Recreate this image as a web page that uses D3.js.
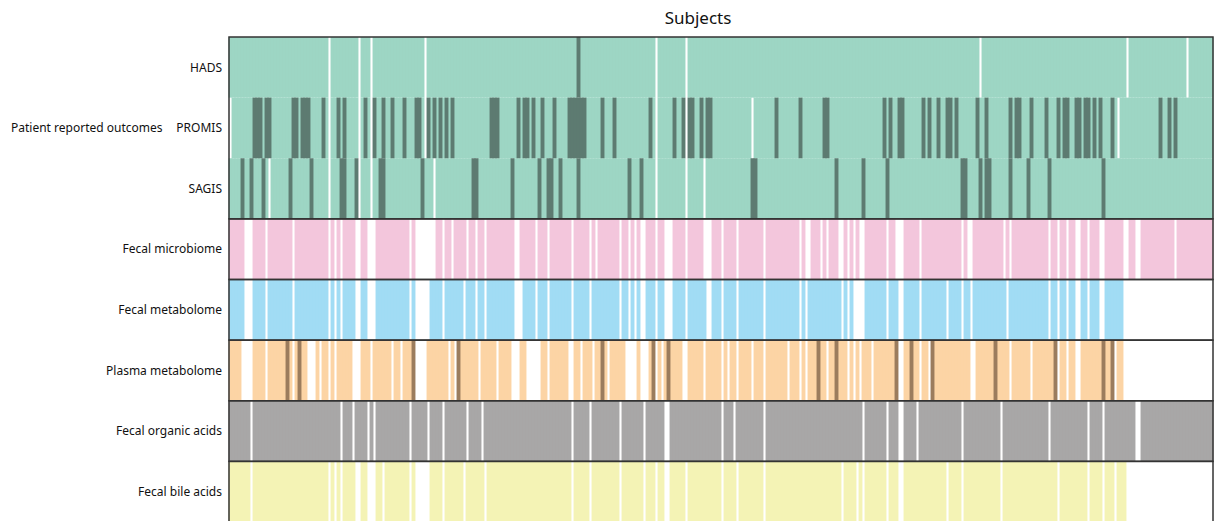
<!DOCTYPE html>
<html>
<head>
<meta charset="utf-8">
<script src="https://cdn.jsdelivr.net/npm/d3@7"></script>
<style>
body { margin: 0; background: #fff; }
text { font-family: "Noto Sans", sans-serif; fill: #111; }
</style>
</head>
<body>
<div id="graph"></div>
<script>
// number of subjects (columns)
var nSubjects = 328;

var rowNames = ["HADS", "PROMIS", "SAGIS", "Fecal microbiome", "Fecal metabolome",
  "Plasma metabolome", "Fecal organic acids", "Fecal bile acids"];

// missing samples per row (single subject or [from, to] inclusive)
var hadsMissing = [33, 43, 47, 65, 142, 152, 250, 299, 319];
var hadsDark = [116];

var promisMissing = [0, 33, 43, 47, 65, 142, 152, 174, 296];
var promisDark = [[8, 10], [12, 13], [21, 22], [24, 26], 31, 36, 38, 45, 48, 51, 54, 58, [62, 63], 66, 68, 70, 72, 74,
  [87, 89], 96, [98, 99], 101, 104, 108, [113, 118], 124, 128, 140, 148, 151, [153, 154], 157, [159, 160],
  182, 190, [198, 199], 218, 220, [223, 224], 231, 233, 236, [239, 240], 242, 249, 252, 260, [262, 263], 267,
  272, 276, [278, 279], [282, 283], [285, 286], 288, 290, 294, 310, 313, 315];

var sagisMissing = [13, 33, 43, 47, 68, 142, 152, 158];
var sagisDark = [4, 7, 11, 20, 27, [37, 38], 42, [50, 51], 64, [81, 82], 94, 103, [106, 107], 110, 116, 133, 137,
  [174, 175], 202, 211, 219, [244, 245], 250, [252, 253], 260, 266, 273, 291];

var microbiomeMissing = [[5, 7], 12, 21, 33, 35, 37, [42, 43], [46, 48], 60, [62, 68], 71, 74, 79, 82, 85, [95, 96],
  102, 106, 114, 120, 122, 130, 133, 135, [137, 138], 142, [145, 147], 152, [158, 160], 164, 169, 178, 190,
  [192, 193], 197, 199, [203, 204], 206, 208, [210, 211], 219, [222, 224], 230, 244, [246, 247], 258, 260, 273,
  276, 279, [282, 283], 286, [290, 291], [298, 299], [302, 303], 315];

var metabolomeMissing = [[5, 7], 12, 21, 33, 35, 37, [42, 43], [46, 48], 60, [62, 66], 71, 78, 82, 85, [95, 97], 102,
  106, 114, 120, 130, 133, 135, [137, 138], 142, [145, 147], 152, [159, 160], 164, 169, 178, 190, 192, 204, 206,
  [208, 211], 219, [223, 224], 230, 239, 244, 247, 259, 273, 276, 279, [282, 283], 286, [290, 291], [298, 327]];

var plasmaMissing = [[4, 7], 12, 21, [26, 28], 30, 33, 35, [41, 43], 47, 54, 57, [62, 65], 73, 75, 83, 89, [94, 96],
  [99, 103], 106, [113, 114], 117, 121, 126, [132, 135], [137, 139], 142, 144, [151, 152], 158, 164, 166, 169,
  174, 178, 186, 190, 192, 199, 206, 208, 210, 214, [223, 224], 230, 233, [247, 248], 260, 267, 276, 279,
  [282, 283], 295, [298, 327]];
var plasmaDark = [19, 23, 61, 76, 124, 141, 146, 196, 202, 222, 227, 234, 255, 275, 291, 294];

var organicMissing = [7, 37, 41, 46, 48, 60, 66, 71, 79, 84, 114, 120, 130, 138, [145, 146], 164, 168, 178, 211, 219,
  [223, 224], 229, 244, 257, 273, 286, 291, [302, 303]];

var bileMissing = [7, 33, 35, 37, [42, 43], [46, 48], 51, 60, [62, 66], 71, 78, 85, 114, 120, 130, 138, 142,
  [145, 146], 152, 164, 169, 178, 204, 209, 211, 219, [223, 224], 239, 244, 257, 276, 286, 291, 295, [299, 327]];

var missingLists = [hadsMissing, promisMissing, sagisMissing, microbiomeMissing, metabolomeMissing,
  plasmaMissing, organicMissing, bileMissing];
var darkLists = [hadsDark, promisDark, sagisDark, [], [], plasmaDark, [], []];

// colours per row
var fills = ["#9dd6c4", "#9dd6c4", "#9dd6c4", "#f3c6dc", "#a1dcf4", "#fcd4a5", "#a8a7a7", "#f4f3b5"];
var darkFills = ["#5d7b71", "#5d7b71", "#5d7b71", null, null, "#9b7c5d", null, null];

function expand(list) {
  var out = [];
  list.forEach(function(d) {
    if (Array.isArray(d)) { for (var i = d[0]; i <= d[1]; i++) out.push(i); }
    else out.push(d);
  });
  return out;
}

var w = 1214, h = 521;
var vis = d3.select("#graph").append("svg").attr("width", w).attr("height", h);

var x = d3.scaleBand().domain(d3.range(nSubjects)).range([229, 1213]);
var y = d3.scaleBand().domain(rowNames).range([37, 522]);

// build cells
var cells = [];
rowNames.forEach(function(r, ri) {
  var miss = new Set(expand(missingLists[ri]));
  var dark = new Set(expand(darkLists[ri]));
  d3.range(nSubjects).forEach(function(s) {
    if (miss.has(s)) return;
    cells.push({row: r, ri: ri, s: s, dark: dark.has(s)});
  });
});

// light cells first, dark ones on top; cells a bit wider so single gaps look thin
var cellW = x.bandwidth() + 0.9;
function drawCells(list, cls) {
  vis.selectAll("rect." + cls).data(list).enter().append("rect")
    .attr("class", cls)
    .attr("x", function(d) { return x(d.s) - 0.45; })
    .attr("y", function(d) { return y(d.row); })
    .attr("width", cellW)
    .attr("height", y.bandwidth())
    .attr("fill", function(d) { return d.dark ? darkFills[d.ri] : fills[d.ri]; });
}
drawCells(cells.filter(function(d) { return !d.dark; }), "cell");
drawCells(cells.filter(function(d) { return d.dark; }), "dark");

// group outlines
var groups = [["HADS", "SAGIS"], ["Fecal microbiome", "Fecal microbiome"], ["Fecal metabolome", "Fecal metabolome"],
  ["Plasma metabolome", "Plasma metabolome"], ["Fecal organic acids", "Fecal organic acids"],
  ["Fecal bile acids", "Fecal bile acids"]];
vis.selectAll("rect.group").data(groups).enter().append("rect")
  .attr("class", "group")
  .attr("x", 229)
  .attr("y", function(d) { return y(d[0]); })
  .attr("width", 1213 - 229)
  .attr("height", function(d) { return y(d[1]) + y.bandwidth() - y(d[0]); })
  .attr("fill", "none")
  .attr("stroke", "#333")
  .attr("stroke-width", 1.5);

// row labels
vis.selectAll("text.row").data(rowNames).enter().append("text")
  .attr("class", "row")
  .attr("x", 222)
  .attr("y", function(d) { return y(d) + y.bandwidth() / 2; })
  .attr("dy", "0.35em")
  .attr("text-anchor", "end")
  .style("font-size", "12px")
  .text(function(d) { return d; });

vis.append("text")
  .attr("x", 11)
  .attr("y", y("PROMIS") + y.bandwidth() / 2)
  .attr("dy", "0.35em")
  .style("font-size", "12px")
  .text("Patient reported outcomes");

vis.append("text")
  .attr("x", 698)
  .attr("y", 24)
  .attr("text-anchor", "middle")
  .style("font-size", "17px")
  .text("Subjects");
</script>
</body>
</html>
